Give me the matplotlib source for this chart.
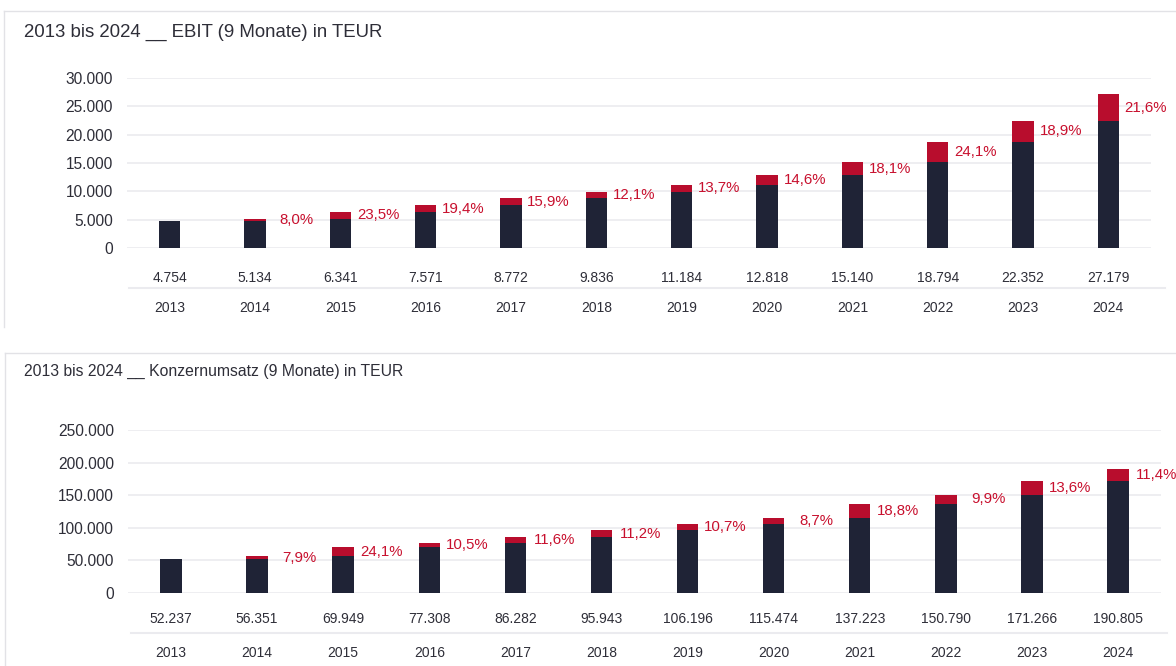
import numpy as np
import matplotlib.pyplot as plt
from matplotlib.lines import Line2D

plt.rcParams['font.family'] = ['Liberation Sans', 'DejaVu Sans']

# Data
years = ['2013', '2014', '2015', '2016', '2017', '2018', '2019', '2020', '2021', '2022', '2023', '2024']
ebit = [4754, 5134, 6341, 7571, 8772, 9836, 11184, 12818, 15140, 18794, 22352, 27179]
ebit_pct = [None, '8,0%', '23,5%', '19,4%', '15,9%', '12,1%', '13,7%', '14,6%', '18,1%', '24,1%', '18,9%', '21,6%']
umsatz = [52237, 56351, 69949, 77308, 86282, 95943, 106196, 115474, 137223, 150790, 171266, 190805]
umsatz_pct = [None, '7,9%', '24,1%', '10,5%', '11,6%', '11,2%', '10,7%', '8,7%', '18,8%', '9,9%', '13,6%', '11,4%']

W, H = 1176, 666
NAVY = '#1f2336'
RED = '#b80d2d'
PCT_RED = '#c8102e'
TXT = '#2e2e38'
GRID = '#ebebef'

fig = plt.figure(figsize=(W / 100, H / 100), dpi=100)


def fmt(v):
    return f"{v:,}".replace(',', '.')


def add_ax(left, right, top, bottom):
    return fig.add_axes([left / W, (H - bottom) / H, (right - left) / W, (bottom - top) / H])


def draw_panel(ax, vals, pcts, ymax, step, val_y, sep_y, year_y, sep_x):
    x = np.arange(len(vals))
    prev = [vals[0]] + vals[:-1]
    base = [min(p, v) for p, v in zip(prev, vals)]
    inc = [v - b for v, b in zip(vals, base)]
    ax.bar(x, base, width=0.25, color=NAVY, zorder=3)
    ax.bar(x, inc, width=0.25, bottom=base, color=RED, zorder=3)
    for i, p in enumerate(pcts):
        if p is None:
            continue
        ax.text(i + 0.69, base[i] + inc[i] / 2, p, ha='right', va='center',
                fontsize=10.8, color=PCT_RED)
    ax.set_xlim(-0.5, len(vals) - 0.5)
    ax.set_ylim(0, ymax)
    ticks = np.arange(0, ymax + 1, step)
    ax.set_yticks(ticks)
    ax.set_yticklabels([fmt(int(t)) for t in ticks])
    ax.tick_params(axis='y', length=0, pad=10, labelsize=11.2, labelcolor=TXT)
    ax.set_xticks([])
    ax.grid(axis='y', color=GRID, linewidth=1.2, zorder=0)
    for s in ax.spines.values():
        s.set_visible(False)
    tr = ax.get_xaxis_transform()
    for i in x:
        ax.text(i, val_y, fmt(vals[i]), transform=tr, ha='center', va='center',
                fontsize=10, color=TXT)
        ax.text(i, year_y, years[i], transform=tr, ha='center', va='center',
                fontsize=10, color=TXT)
    ax.plot(sep_x, [sep_y, sep_y], transform=ax.transAxes, color=GRID,
            linewidth=1.5, clip_on=False)


# Top panel: EBIT
ax1 = add_ax(127, 1151, 78, 248)
draw_panel(ax1, ebit, ebit_pct, 30000, 5000, -0.176, -0.235, -0.353, [0.002, 1.014])

# Bottom panel: Konzernumsatz
ax2 = add_ax(128, 1161, 430, 593)
draw_panel(ax2, umsatz, umsatz_pct, 250000, 50000, -0.16, -0.245, -0.368, [0.003, 1.006])

# Titles
fig.text(24 / W, 1 - 32 / H, '2013 bis 2024 __ EBIT (9 Monate) in TEUR',
         ha='left', va='center', fontsize=13.4, color=TXT)
fig.text(24 / W, 1 - 371 / H, '2013 bis 2024 __ Konzernumsatz (9 Monate) in TEUR',
         ha='left', va='center', fontsize=11.3, color=TXT)

# Panel frames
frame = '#e2e2e6'
fig.add_artist(Line2D([4 / W, 1], [1 - 11 / H, 1 - 11 / H], color=frame, lw=1))
fig.add_artist(Line2D([4 / W, 4 / W], [1 - 11 / H, 1 - 327 / H], color=frame, lw=1))
fig.add_artist(Line2D([5 / W, 1], [1 - 353 / H, 1 - 353 / H], color=frame, lw=1))
fig.add_artist(Line2D([5 / W, 5 / W], [1 - 353 / H, 0], color=frame, lw=1))

plt.savefig('out.png', dpi=100)
